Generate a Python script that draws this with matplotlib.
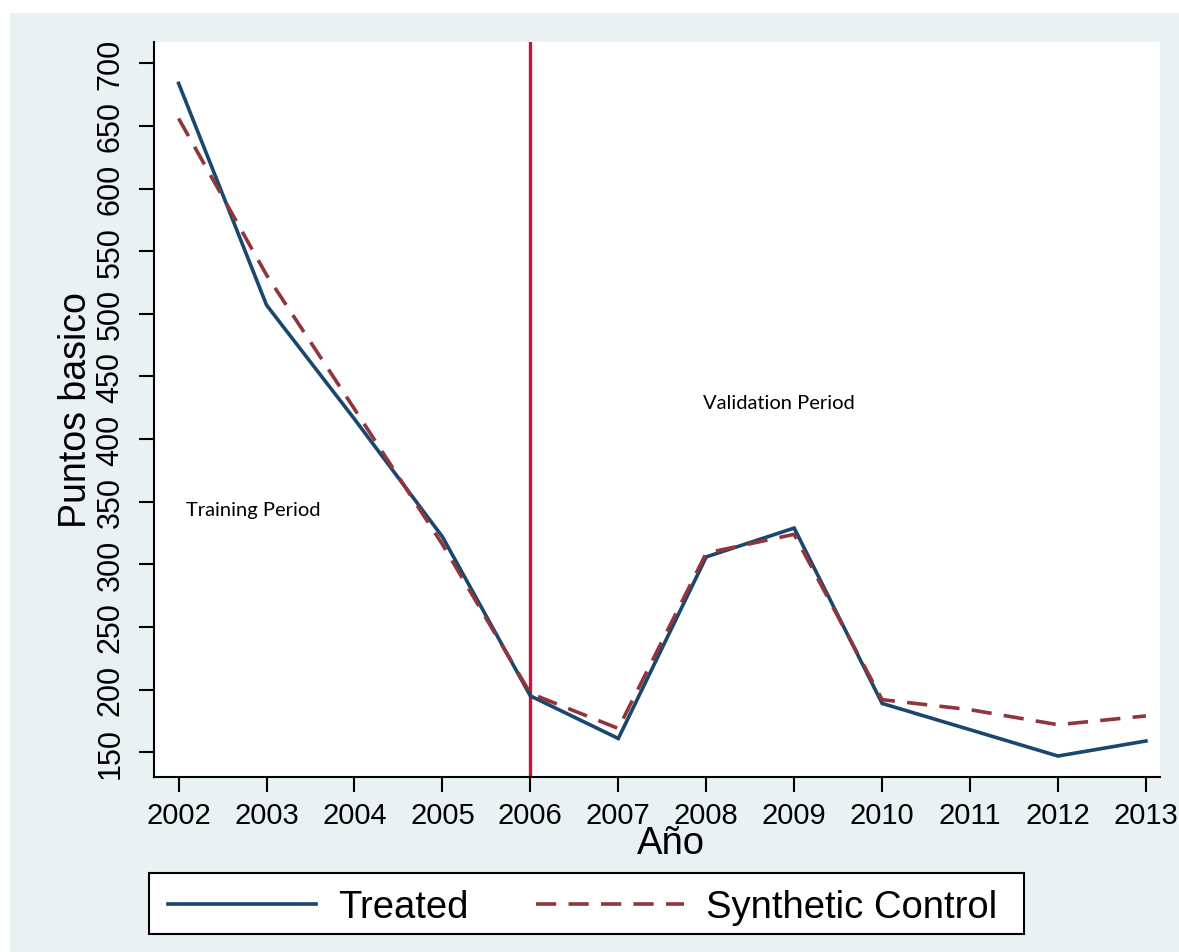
import matplotlib
matplotlib.use("Agg")
import matplotlib.pyplot as plt
from matplotlib.patches import Rectangle

years = [2002, 2003, 2004, 2005, 2006, 2007, 2008, 2009, 2010, 2011, 2012, 2013]
treated = [684, 507, 416, 322, 195, 161, 306, 329, 189, 168, 147, 159]
synthetic = [656, 531, 424, 316, 197, 169, 309, 324, 192, 184, 172, 179]
y_ticks = [150, 200, 250, 300, 350, 400, 450, 500, 550, 600, 650, 700]
treatment_year = 2006

NAVY = "#1A476F"
MAROON = "#90353B"
CRANBERRY = "#D0103A"
BG = "#EAF1F3"

plt.rcParams["font.family"] = ["Liberation Sans", "DejaVu Sans"]

W, H = 1179, 953
fig = plt.figure(figsize=(W / 100, H / 100), dpi=100, facecolor="white")
fig.patches.append(Rectangle((10 / W, 0), 1, 1 - 14 / H,
                             transform=fig.transFigure, facecolor=BG,
                             edgecolor="none", zorder=-10))

ax = fig.add_axes([154 / W, 175.3 / H, 1006 / W, 734.4 / H])
ax.set_facecolor("white")

ax.plot(years, treated, color=NAVY, lw=2.6, solid_joinstyle="miter",
        label="Treated", zorder=3)
ax.plot(years, synthetic, color=MAROON, lw=2.6, linestyle=(0, (5.6, 3.4)),
        label="Synthetic Control", zorder=4)
ax.axvline(treatment_year, color=CRANBERRY, lw=2.4, zorder=2)

note_font = ["Lato", "DejaVu Sans"]
ax.text(2002.08, 344, "Training Period", fontsize=14.5, family=note_font,
        ha="left", va="center")
ax.text(2007.96, 429, "Validation Period", fontsize=14.5, family=note_font,
        ha="left", va="center")

ax.set_xlim(2001.72, 2013.16)
ax.set_ylim(130.5, 716.8)
ax.set_xticks(years)
ax.set_xticklabels([str(y) for y in years])
ax.set_yticks(y_ticks)
ax.set_yticklabels([str(v) for v in y_ticks], rotation=90, va="center")

for side in ("top", "right"):
    ax.spines[side].set_visible(False)
for side in ("left", "bottom"):
    ax.spines[side].set_linewidth(1.5)
    ax.spines[side].set_color("black")

ax.tick_params(axis="both", length=10.5, width=1.5, colors="black")
ax.tick_params(axis="x", pad=7, labelsize=21)
ax.tick_params(axis="y", pad=10, labelsize=22)

ax.set_xlabel("Año", fontsize=27.5)
ax.xaxis.set_label_coords((671 - 154) / 1006, (777.7 - 826) / 734.4)
ax.set_ylabel("Puntos basico", fontsize=27)
ax.yaxis.set_label_coords((94 - 154) / 1006, 0.5)

# legend box drawn at a fixed place, entries centred inside it
fig.patches.append(Rectangle((149 / W, (H - 935) / H), (1024 - 149) / W, 61 / H,
                             transform=fig.transFigure, facecolor="white",
                             edgecolor="black", linewidth=1.5, zorder=4))
leg = fig.legend(loc="center", bbox_to_anchor=((168 + 997) / 2 / W, (H - 908) / H),
                 ncol=2, fontsize=27.5, frameon=False,
                 handlelength=3.87, handletextpad=0.58, columnspacing=1.78,
                 borderpad=0.3, borderaxespad=0)
leg.set_zorder(5)

fig.savefig("out.png", dpi=100, facecolor="white")
